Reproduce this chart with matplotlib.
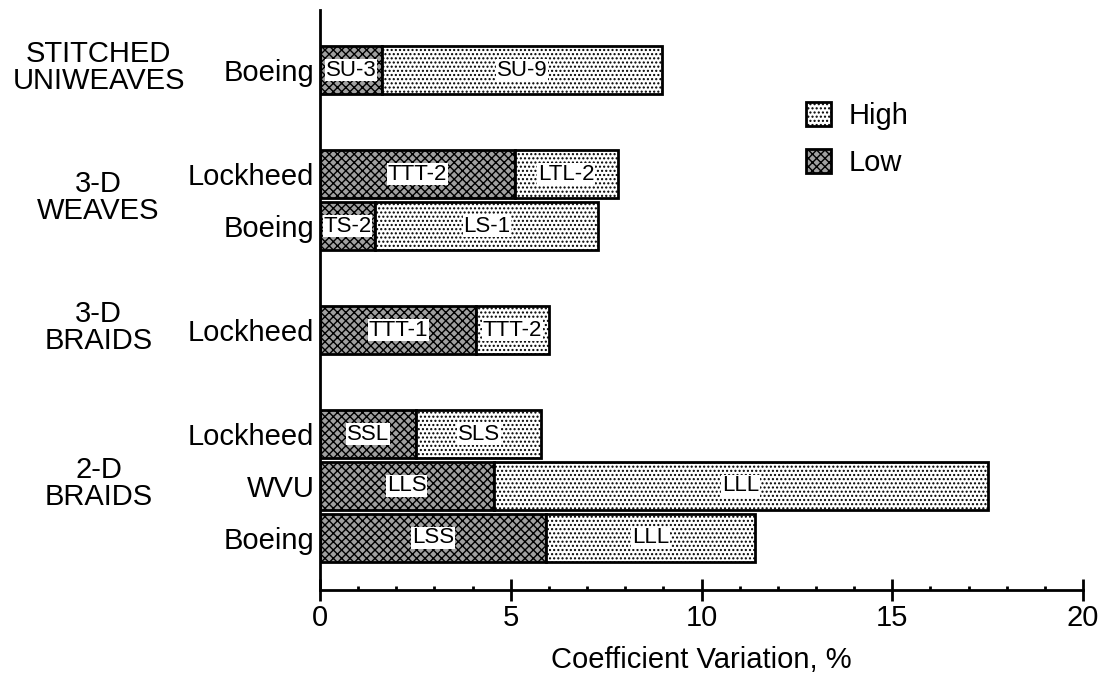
import matplotlib
matplotlib.use("Agg")
import matplotlib.pyplot as plt
from matplotlib.patches import Patch
from matplotlib.ticker import MultipleLocator

plt.rcParams['font.family'] = ['Liberation Sans', 'DejaVu Sans']
plt.rcParams['hatch.linewidth'] = 1.0

# data, bottom to top
group_names = ["2-D\nBRAIDS", "3-D\nBRAIDS", "3-D\nWEAVES", "STITCHED\nUNIWEAVES"]
group_sizes = [3, 1, 2, 1]
makers = ["Boeing", "WVU", "Lockheed", "Lockheed", "Boeing", "Lockheed", "Boeing"]
low_vals = [5.93, 4.55, 2.53, 4.1, 1.45, 5.1, 1.63]
high_vals = [11.4, 17.5, 5.8, 6.0, 7.3, 7.8, 8.97]
low_names = ["LSS", "LLS", "SSL", "TTT-1", "TS-2", "TTT-2", "SU-3"]
high_names = ["LLL", "LLL", "SLS", "TTT-2", "LS-1", "LTL-2", "SU-9"]

# bar positions: groups separated by one empty slot
ypos = []
group_centres = []
y = 0
for n in group_sizes:
    ys = list(range(y, y + n))
    ypos += ys
    group_centres.append(sum(ys) / n)
    y += n + 1

fig = plt.figure(figsize=(11.03, 6.9), dpi=100)
ax = fig.add_axes([0.290, 0.145, 0.692, 0.840])

bar_h = 0.92
high_w = [h - l for h, l in zip(high_vals, low_vals)]
ax.barh(ypos, low_vals, height=bar_h, color="#a0a0a0", edgecolor="black",
        hatch="xxxx", linewidth=2)
ax.barh(ypos, high_w, left=low_vals, height=bar_h, color="white",
        edgecolor="black", hatch="....", linewidth=2)

lbl_box = dict(facecolor="white", edgecolor="none", pad=0.5)
for yy, l, h, ln, hn in zip(ypos, low_vals, high_vals, low_names, high_names):
    ax.text(l / 2, yy, ln, ha="center", va="center", fontsize=16, bbox=lbl_box)
    ax.text((l + h) / 2, yy, hn, ha="center", va="center", fontsize=16, bbox=lbl_box)

for name, yc in zip(group_names, group_centres):
    ax.text(-0.29, yc + 0.05, name, transform=ax.get_yaxis_transform(), ha="center",
            va="center", fontsize=21, linespacing=0.98)

ax.set_xlim(0, 20)
ax.set_ylim(-1, 10.15)
ax.set_yticks(ypos)
ax.set_yticklabels(makers, fontsize=21)
ax.tick_params(axis="y", length=0, pad=4)
ax.xaxis.set_major_locator(MultipleLocator(5))
ax.xaxis.set_minor_locator(MultipleLocator(1))
ax.tick_params(axis="x", which="major", direction="inout", length=16, width=2,
               labelsize=21, pad=2)
ax.tick_params(axis="x", which="minor", direction="in", length=3, width=2)
ax.set_xlabel("Coefficient Variation, %", fontsize=21, labelpad=10)

for side in ["top", "right"]:
    ax.spines[side].set_visible(False)
for side in ["left", "bottom"]:
    ax.spines[side].set_linewidth(2)

handles = [Patch(facecolor="white", edgecolor="black", hatch="....", linewidth=2, label="High"),
           Patch(facecolor="#a0a0a0", edgecolor="black", hatch="xxxx", linewidth=2, label="Low")]
ax.legend(handles=handles, loc="upper left", bbox_to_anchor=(0.603, 0.887),
          frameon=False, fontsize=21, handlelength=0.85, handleheight=0.85,
          handletextpad=0.6, labelspacing=0.65)

fig.savefig("out.png", dpi=100)
